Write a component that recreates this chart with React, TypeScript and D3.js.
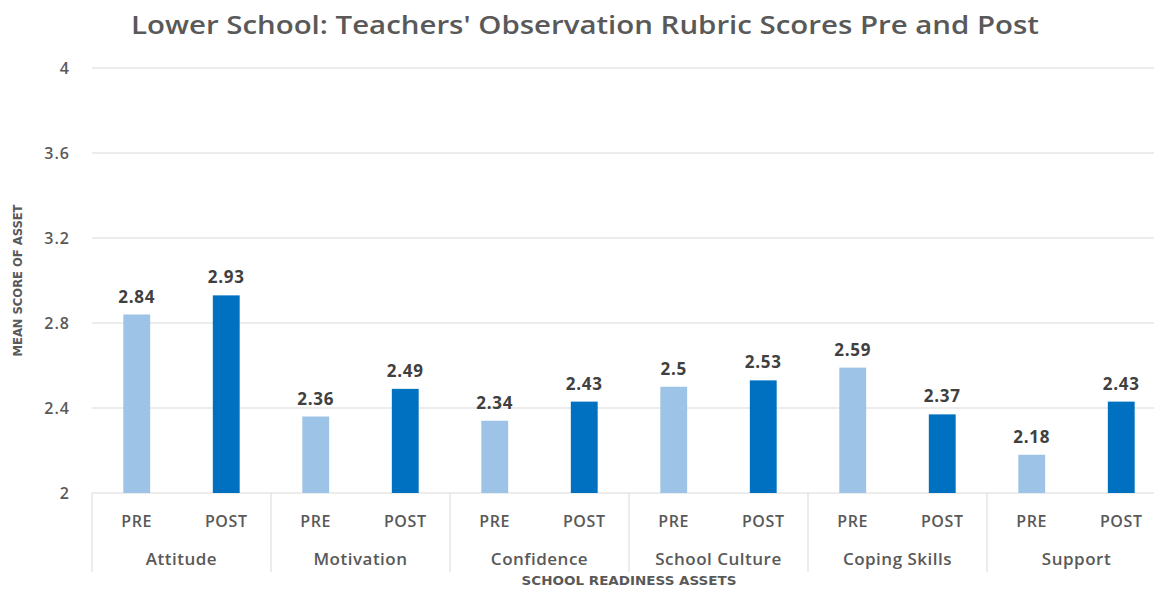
import React from "react";
import * as d3 from "d3";

const groups = ["Attitude", "Motivation", "Confidence", "School Culture", "Coping Skills", "Support"];
const phases = ["PRE", "POST"];
const preValues = [2.84, 2.36, 2.34, 2.5, 2.59, 2.18];
const postValues = [2.93, 2.49, 2.43, 2.53, 2.37, 2.43];
const yTicks = [2, 2.4, 2.8, 3.2, 3.6, 4];

const W = 1154, H = 590;
const left = 92, right = 1166, top = 68, bottom = 493;
const font = "'Open Sans', 'Liberation Sans', sans-serif";
const narrow = "'Liberation Sans Narrow', 'DejaVu Sans Condensed', sans-serif";

export default function App() {
  const y = d3.scaleLinear().domain([2, 4]).range([bottom, top]);
  const gx = d3.scaleBand().domain(groups).range([left, right]).padding(0);
  const px = d3.scaleBand().domain(phases).range([0, gx.bandwidth()]).paddingInner(0.7).paddingOuter(0.35);
  const colors = ["#9DC3E6", "#0070C0"];
  const fmt = (v: number) => String(v);
  return (
    <svg width={W} height={H} style={{ position: "absolute", left: 0, top: 0, background: "#fff" }}>
      <text x={585} y={34} textAnchor="middle" fontFamily={font} fontWeight={600} fontSize={25} fill="#595959" textLength={908} lengthAdjust="spacingAndGlyphs">
        Lower School: Teachers' Observation Rubric Scores Pre and Post
      </text>
      {yTicks.map((t) => (
        <g key={t}>
          <line x1={left} x2={right} y1={y(t)} y2={y(t)} stroke="#d9d9d9" strokeWidth={1} />
          <text x={70} y={y(t) + 6} textAnchor="end" fontFamily={font} fontWeight={600} fontSize={16} letterSpacing={1} fill="#595959">
            {t}
          </text>
        </g>
      ))}
      <text transform={`translate(22,${(top + bottom) / 2}) rotate(-90)`} textAnchor="middle" fontFamily={narrow} fontWeight={700} fontSize={13} fill="#595959" textLength={152} lengthAdjust="spacingAndGlyphs">
        MEAN SCORE OF ASSET
      </text>
      {groups.map((g, i) => {
        const x0 = gx(g)!;
        const vals = [preValues[i], postValues[i]];
        return (
          <g key={g}>
            {phases.map((p, j) => {
              const bx = x0 + px(p)!;
              const v = vals[j];
              return (
                <g key={p}>
                  <rect x={bx} y={y(v)} width={px.bandwidth()} height={bottom - y(v)} fill={colors[j]} />
                  <text x={bx + px.bandwidth() / 2} y={y(v) - 12} textAnchor="middle" fontFamily={font} fontWeight={700} fontSize={17} letterSpacing={0.8} fill="#404040">
                    {fmt(v)}
                  </text>
                  <text x={bx + px.bandwidth() / 2} y={527} textAnchor="middle" fontFamily={font} fontWeight={600} fontSize={16} letterSpacing={0.6} fill="#595959">
                    {p}
                  </text>
                </g>
              );
            })}
            <text x={x0 + gx.bandwidth() / 2} y={565} textAnchor="middle" fontFamily={font} fontWeight={600} fontSize={17} letterSpacing={0.5} fill="#595959">
              {g}
            </text>
          </g>
        );
      })}
      {d3.range(groups.length + 1).map((k) => {
        const xx = left + k * gx.bandwidth();
        return <line key={k} x1={xx} x2={xx} y1={bottom} y2={572} stroke="#d9d9d9" strokeWidth={1} />;
      })}
      <text x={629} y={585} textAnchor="middle" fontFamily={narrow} fontWeight={700} fontSize={12} fill="#595959" textLength={215} lengthAdjust="spacingAndGlyphs">
        SCHOOL READINESS ASSETS
      </text>
    </svg>
  );
}
